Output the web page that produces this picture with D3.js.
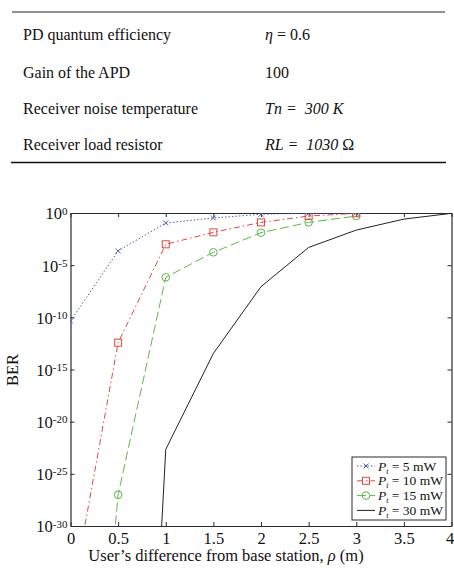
<!DOCTYPE html>
<html>
<head>
<meta charset="utf-8">
<script src="https://cdn.jsdelivr.net/npm/d3@7"></script>
<style>
  body { margin: 0; background: #fff; }
  svg { font-family: "Liberation Serif", "Times New Roman", serif; }
</style>
</head>
<body>
<svg></svg>
<script>
// --------------- data

// parameter table
const paramNames = ['PD quantum efficiency', 'Gain of the APD', 'Receiver noise temperature', 'Receiver load resistor'];
const paramValues = ['η = 0.6', '100', 'Tn =  300 K', 'RL =  1030 Ω'];

// distance from base station (m)
const dist5 = [0, 0.5, 1, 1.5, 2, 2.5, 3];
const ber5 = [4.5e-11, 2.3e-4, 0.11, 0.33, 0.76, 0.95, 0.99];

const dist10 = [0, 0.5, 1, 1.5, 2, 2.5, 3];
const ber10 = [3e-38, 3.7e-13, 1e-3, 0.014, 0.126, 0.51, 0.93];

const dist15 = [0, 0.5, 1, 1.5, 2, 2.5, 3];
const ber15 = [1e-77, 1e-27, 6.8e-7, 1.7e-4, 0.013, 0.126, 0.51];

const dist30 = [0.5, 1, 1.5, 2, 2.5, 3, 3.5, 4];
const ber30 = [1e-108, 2.2e-23, 3.5e-14, 8.7e-8, 5e-4, 0.023, 0.26, 0.93];

const xTicks = [0, 0.5, 1, 1.5, 2, 2.5, 3, 3.5, 4];
const yTickExps = [0, -5, -10, -15, -20, -25, -30];

const seriesNames = ['5 mW', '10 mW', '15 mW', '30 mW'];

// --------------- setup
const width = 454;
const height = 568;

const svg = d3.select('svg')
  .attr('width', width)
  .attr('height', height);

// table
const tableLeft = 12;
const tableRight = 445;
svg.append('line')
  .attr('x1', tableLeft).attr('x2', tableRight)
  .attr('y1', 12).attr('y2', 12)
  .attr('stroke', '#222').attr('stroke-width', 1.2);
svg.append('line')
  .attr('x1', tableLeft - 1).attr('x2', tableRight + 1)
  .attr('y1', 162.5).attr('y2', 162.5)
  .attr('stroke', '#111').attr('stroke-width', 1.4);

const rowY = [39.5, 78, 114, 149.5];
paramNames.forEach(function (name, i) {
  svg.append('text')
    .attr('x', 23).attr('y', rowY[i])
    .attr('font-size', 16)
    .attr('fill', '#111')
    .text(name);
});

// value column (eta, Tn, RL italic)
const valueCol = svg.append('g').attr('font-size', 16).attr('fill', '#111');
let t = valueCol.append('text').attr('x', 265).attr('y', rowY[0]);
t.append('tspan').attr('font-style', 'italic').text('η');
t.append('tspan').text(paramValues[0].slice(1));
valueCol.append('text').attr('x', 265).attr('y', rowY[1]).text(paramValues[1]);
valueCol.append('text').attr('x', 265).attr('y', rowY[2])
  .attr('font-style', 'italic').attr('xml:space', 'preserve').text(paramValues[2]);
t = valueCol.append('text').attr('x', 265).attr('y', rowY[3]).attr('xml:space', 'preserve');
t.append('tspan').attr('font-style', 'italic').text(paramValues[3].slice(0, -1));
t.append('tspan').text('Ω');

// --------------- chart
const plotLeft = 70.5;
const plotRight = 451.5;
const plotTop = 213;
const plotBottom = 526;

const xScale = d3.scaleLinear().domain([0, 4]).range([plotLeft, plotRight]);
const yScale = d3.scaleLog().domain([1e-30, 1]).range([plotBottom, plotTop]);

svg.append('clipPath').attr('id', 'plot-clip')
  .append('rect')
  .attr('x', plotLeft).attr('y', plotTop)
  .attr('width', plotRight - plotLeft).attr('height', plotBottom - plotTop);

const axisColor = '#2a2a2a';

// axes (ticks inward, box on all sides)
const yTickVals = yTickExps.map(function (e) { return Math.pow(10, e); });

const gx = svg.append('g')
  .attr('transform', 'translate(0,' + plotBottom + ')')
  .call(d3.axisBottom(xScale).tickValues(xTicks).tickSizeInner(-4).tickSizeOuter(0)
    .tickPadding(6).tickFormat(d3.format('')));
const gxTop = svg.append('g')
  .attr('transform', 'translate(0,' + plotTop + ')')
  .call(d3.axisTop(xScale).tickValues(xTicks).tickSizeInner(-4).tickSizeOuter(0)
    .tickFormat(''));
const gy = svg.append('g')
  .attr('transform', 'translate(' + plotLeft + ',0)')
  .call(d3.axisLeft(yScale).tickValues(yTickVals).tickSizeInner(-4).tickSizeOuter(0)
    .tickFormat(''));
const gyRight = svg.append('g')
  .attr('transform', 'translate(' + plotRight + ',0)')
  .call(d3.axisRight(yScale).tickValues(yTickVals).tickSizeInner(-4).tickSizeOuter(0)
    .tickFormat(''));

[gx, gxTop, gy, gyRight].forEach(function (g) {
  g.select('.domain').attr('stroke', axisColor).attr('stroke-width', 1.2);
  g.selectAll('.tick line').attr('stroke', axisColor).attr('stroke-width', 1);
});

gx.selectAll('.tick text')
  .attr('font-family', '"Liberation Serif", serif')
  .attr('font-size', 16.5)
  .attr('fill', '#111')
  .attr('x', function (d) { return d === 4 ? -2 : 0; });

// y tick labels as 10 with superscript exponent
gy.selectAll('.tick').each(function (d) {
  const exp = Math.round(Math.log10(d));
  const label = d3.select(this).select('text')
    .attr('x', -3)
    .attr('dy', '0.36em')
    .attr('font-family', '"Liberation Serif", serif')
    .attr('font-size', 16.5)
    .attr('fill', '#111')
    .attr('text-anchor', 'end');
  label.append('tspan').text('10');
  label.append('tspan').attr('dy', '-0.45em').attr('font-size', 11).text(exp);
});

// axis titles
const xTitle = svg.append('text')
  .attr('x', 226)
  .attr('y', 561)
  .attr('text-anchor', 'middle')
  .attr('font-size', 16.5)
  .attr('fill', '#111');
xTitle.append('tspan').text('User’s difference from base station, ');
xTitle.append('tspan').attr('font-style', 'italic').text('ρ');
xTitle.append('tspan').text(' (m)');

svg.append('text')
  .attr('transform', 'translate(18,' + 370 + ') rotate(-90)')
  .attr('text-anchor', 'middle')
  .attr('font-size', 16.5)
  .attr('fill', '#111')
  .text('BER');

// series
const series = [
  { name: seriesNames[0], x: dist5, y: ber5, color: '#4a62b0', dash: '1.5,2', marker: 'cross' },
  { name: seriesNames[1], x: dist10, y: ber10, color: '#e4463e', dash: '6,3,1.5,3', marker: 'square' },
  { name: seriesNames[2], x: dist15, y: ber15, color: '#5fb648', dash: '9,4', marker: 'circle' },
  { name: seriesNames[3], x: dist30, y: ber30, color: '#222', dash: null, marker: null }
];

const line = d3.line()
  .x(function (p) { return xScale(p[0]); })
  .y(function (p) { return yScale(p[1]); });

const plot = svg.append('g').attr('clip-path', 'url(#plot-clip)');

function drawMarker(g, type, color, cx, cy) {
  if (type === 'square') {
    g.append('rect')
      .attr('x', cx - 3.5).attr('y', cy - 3.5)
      .attr('width', 7).attr('height', 7)
      .attr('fill', 'none').attr('stroke', color).attr('stroke-width', 1);
  } else if (type === 'circle') {
    g.append('circle')
      .attr('cx', cx).attr('cy', cy).attr('r', 3.8)
      .attr('fill', 'none').attr('stroke', color).attr('stroke-width', 1);
  } else if (type === 'cross') {
    g.append('path')
      .attr('d', 'M' + (cx - 2.5) + ',' + (cy - 2.5) + 'L' + (cx + 2.5) + ',' + (cy + 2.5) +
        'M' + (cx - 2.5) + ',' + (cy + 2.5) + 'L' + (cx + 2.5) + ',' + (cy - 2.5))
      .attr('stroke', color).attr('stroke-width', 1);
  }
}

series.slice().reverse().forEach(function (s) {
  const pts = s.x.map(function (x, i) { return [x, s.y[i]]; });
  plot.append('path')
    .datum(pts)
    .attr('d', line)
    .attr('fill', 'none')
    .attr('stroke', s.color)
    .attr('stroke-width', 1)
    .attr('stroke-dasharray', s.dash);
  if (s.marker) {
    pts.forEach(function (p) {
      drawMarker(plot, s.marker, s.color, xScale(p[0]), yScale(p[1]));
    });
  }
});

// legend
const legend = svg.append('g').attr('transform', 'translate(352,457)');
legend.append('rect')
  .attr('width', 94).attr('height', 63)
  .attr('fill', '#fff').attr('stroke', axisColor).attr('stroke-width', 1);

series.forEach(function (s, i) {
  const ly = 9 + i * 14.8;
  const row = legend.append('g').attr('transform', 'translate(0,' + ly + ')');
  row.append('line')
    .attr('x1', 5).attr('x2', 23)
    .attr('stroke', s.color).attr('stroke-width', 1)
    .attr('stroke-dasharray', s.dash);
  if (s.marker) drawMarker(row, s.marker, s.color, 14, 0);
  const txt = row.append('text')
    .attr('x', 26).attr('y', 4.5)
    .attr('font-size', 13.5)
    .attr('fill', '#111');
  txt.append('tspan').attr('font-style', 'italic').text('P');
  txt.append('tspan').attr('font-style', 'italic').attr('font-size', 8).attr('dy', 3).text('t');
  txt.append('tspan').attr('dy', -3).text(' = ' + s.name);
});
</script>
</body>
</html>
